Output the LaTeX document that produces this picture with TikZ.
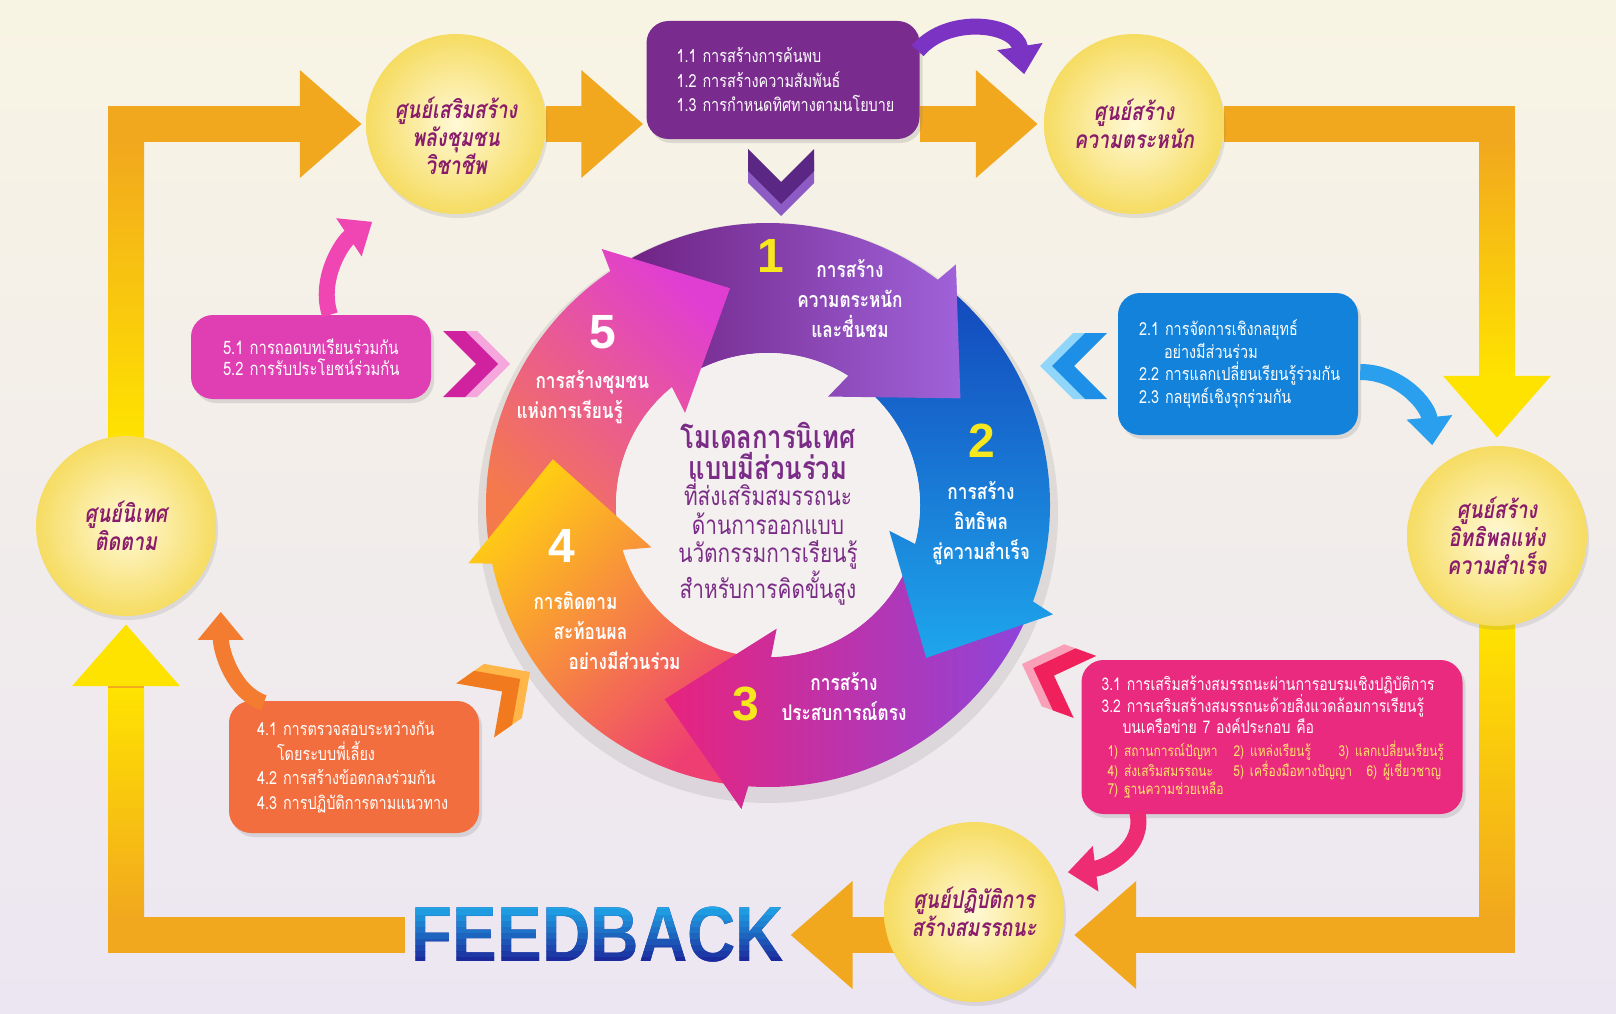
\documentclass[tikz,border=0pt]{standalone}
\usepackage{fontspec}
\newfontfamily\thai[Script=Thai,FakeStretch=0.8]{Loma}
\newfontfamily\numfont{Liberation Sans}
\usetikzlibrary{positioning,arrows.meta,calc,shadows,backgrounds}

\definecolor{bgtop}{HTML}{F8F4E4}
\definecolor{bgbot}{HTML}{ECE6F2}
\definecolor{bandO}{HTML}{F2A81E}
\definecolor{bandY}{HTML}{FFE300}
\definecolor{ballIn}{HTML}{FFF9D6}
\definecolor{ballOut}{HTML}{F6DC62}
\definecolor{ballTxt}{HTML}{8A1C6C}
\definecolor{boxP}{HTML}{7A2B8E}
\definecolor{boxB}{HTML}{1282DA}
\definecolor{boxR}{HTML}{EA2A7E}
\definecolor{boxO}{HTML}{F36E3E}
\definecolor{boxM}{HTML}{DF3FB2}
\definecolor{boxY}{HTML}{FFE36A}
\definecolor{midTxt}{HTML}{7A2C86}
\definecolor{numY}{HTML}{F7E81E}
\definecolor{innerC}{HTML}{F4F0EF}
\definecolor{fbTop}{HTML}{20AAEA}
\definecolor{fbBot}{HTML}{1B2A9C}
% ring parts: a = top, m = middle, b = bottom (before turning)
\definecolor{r1a}{HTML}{6E2282}\definecolor{r1m}{HTML}{8A3FB0}\definecolor{r1b}{HTML}{A062DA}
\definecolor{r2a}{HTML}{1348BC}\definecolor{r2m}{HTML}{1676D6}\definecolor{r2b}{HTML}{1EA6EC}
\definecolor{r3a}{HTML}{E8237E}\definecolor{r3m}{HTML}{BF30B0}\definecolor{r3b}{HTML}{8E44DA}
\definecolor{r4a}{HTML}{FFCC14}\definecolor{r4m}{HTML}{F7922E}\definecolor{r4b}{HTML}{EE3E72}
\definecolor{r5a}{HTML}{E03ED2}\definecolor{r5m}{HTML}{EE4C96}\definecolor{r5b}{HTML}{F47A4C}
% small arrows and chevrons
\definecolor{arP}{HTML}{7A33C2}\definecolor{arB}{HTML}{2A9FEE}
\definecolor{arR}{HTML}{EE2C74}\definecolor{arO}{HTML}{F47C30}
\definecolor{arM}{HTML}{F046B4}
\definecolor{chPa}{HTML}{5A2784}\definecolor{chPb}{HTML}{8D5BC4}
\definecolor{chBa}{HTML}{1E8FE6}\definecolor{chBb}{HTML}{8FD6FA}
\definecolor{chRa}{HTML}{F0205C}\definecolor{chRb}{HTML}{F9A0B8}
\definecolor{chOa}{HTML}{F27A1E}\definecolor{chOb}{HTML}{FFB648}
\definecolor{chMa}{HTML}{D0229E}\definecolor{chMb}{HTML}{F5A6DC}

\tikzset{pics/chev/.style 2 args={code={
  \fill[#2] (-33,-33) -- (0,0) -- (-33,33) -- (-55,33) -- (-22,0) -- (-55,-33) -- cycle;
  \fill[#1] (-45,-33) -- (-12,0) -- (-45,33) -- (-67,33) -- (-34,0) -- (-67,-33) -- cycle;
}}}

\begin{document}
\begin{tikzpicture}[x=1pt,y=-1pt,
  band/.style={line width=36pt, draw=bandO},
  balltxt/.style={align=center, text=ballTxt, font=\thai\bfseries\itshape\fontsize{24.5}{28}\selectfont},
  ball/.style={circle, minimum size=180pt, inner sep=0pt, shading=radial, inner color=ballIn, outer color=ballOut,
    drop shadow={opacity=.18, shadow xshift=2pt, shadow yshift=-4pt}, balltxt},
  infobox/.style={rounded corners=22pt, align=left, inner ysep=0pt, text=white,
    font=\thai\fontsize{18}{24.5}\selectfont, drop shadow={opacity=.22, shadow xshift=3pt, shadow yshift=-4pt}},
  ringtxt/.style={align=center, text=white, font=\thai\bfseries\fontsize{21.5}{30}\selectfont},
  ringnum/.style={font=\numfont\bfseries\fontsize{48}{48}\selectfont},
  fbtxt/.style={font=\numfont\bfseries\fontsize{78}{78}\selectfont, inner sep=6pt},
  curv/.style={line width=16pt, draw=#1, -{Triangle[length=28pt,width=44pt,color=#1]}}]
\useasboundingbox (0,0) rectangle (1616,1014);

% ring: five curved arrows, heads laid over the next one
\begin{scope}[shift={(768,505)}, y=1pt]
  \fill[black, opacity=.08] (0,-8) circle[radius=290];
  \foreach \s/\b/\i/\ang in {121/56/1/90, 50/-17/2/0, -23/-91/3/90, -97/-165/4/45, -171/-233/5/-45}
    \shade[top color=r\i a, middle color=r\i m, bottom color=r\i b, shading angle=\ang]
      (\s:282) arc[start angle=\s, end angle=\b-3, radius=282] -- ({\b-4}:305) -- ({\b-27}:220) -- ({\b+5}:124)
      -- ({\b+4}:152) arc[start angle=\b+4, end angle=\s, radius=152] -- cycle;
  \fill[innerC] (0,0) circle[radius=152];
  \foreach \s/\b/\i/\ang in {121/56/1/90, 50/-17/2/0, -23/-91/3/90, -97/-165/4/45, -171/-233/5/-45} {
    \begin{scope}
      \clip ({\b-4}:305) -- ({\b-27}:220) -- ({\b+5}:124) -- cycle;
      \shade[top color=r\i a, middle color=r\i m, bottom color=r\i b, shading angle=\ang]
        (\s:282) arc[start angle=\s, end angle=\b-3, radius=282] -- ({\b-4}:305) -- ({\b-27}:220) -- ({\b+5}:124)
        -- ({\b+4}:152) arc[start angle=\b+4, end angle=\s, radius=152] -- cycle;
    \end{scope}
  }
\end{scope}

% centres
\node[ball] (c1) at (456,124) {};
\node[balltxt] (c1t) at (456,136) {ศูนย์เสริมสร้าง\\พลังชุมชน\\วิชาชีพ};
\node[ball] (c2) at (1134,124) {ศูนย์สร้าง\\ความตระหนัก};
\node[ball] (c3) at (1497,536) {ศูนย์สร้าง\\อิทธิพลแห่ง\\ความสำเร็จ};
\node[ball] (c4) at (974,912) {ศูนย์ปฏิบัติการ\\สร้างสมรรถนะ};
\node[ball] (c5) at (126,526) {ศูนย์นิเทศ\\ติดตาม};

% feedback, shaded in strips
\node[fbtxt, text=fbBot] (fb) at (598,935) {\scalebox{0.86}[1]{FEEDBACK}};
\foreach \i in {0,...,9} {
  \pgfmathsetmacro\ytop{903+\i*6}
  \pgfmathsetmacro\pc{100-\i*11}
  \begin{scope}
    \clip (380,\ytop) rectangle (820,\ytop+6.3);
    \node[fbtxt, text=fbTop!\pc!fbBot] (fbs\i) at (fb) {\scalebox{0.86}[1]{FEEDBACK}};
  \end{scope}
}

% boxes
\node[infobox, fill=boxP, text width=213pt, inner xsep=30pt, minimum height=118pt] (box1) at (783,80)
  {1.1~การสร้างการค้นพบ\\1.2~การสร้างความสัมพันธ์\\1.3~การกำหนดทิศทางตามนโยบาย};
\node[infobox, fill=boxB, text width=198pt, inner xsep=21pt, minimum height=142pt, font=\thai\fontsize{18}{22.5}\selectfont] (box2) at (1238,364)
  {2.1~การจัดการเชิงกลยุทธ์\\\hspace*{25pt}อย่างมีส่วนร่วม\\2.2~การแลกเปลี่ยนเรียนรู้ร่วมกัน\\2.3~กลยุทธ์เชิงรุกร่วมกัน};
\node[infobox, fill=boxR, text width=341pt, inner xsep=20pt, minimum height=154pt, font=\thai\fontsize{17.5}{20.5}\selectfont] (box3) at (1272,737)
  {3.1~การเสริมสร้างสมรรถนะผ่านการอบรมเชิงปฏิบัติการ\\3.2~การเสริมสร้างสมรรถนะด้วยสิ่งแวดล้อมการเรียนรู้\\\hspace*{21pt}บนเครือข่าย~7~องค์ประกอบ~คือ\par\vspace{5pt}
  {\color{boxY}\fontsize{15}{18}\selectfont
  \hspace*{6pt}\makebox[126pt][l]{1)~สถานการณ์ปัญหา}\makebox[105pt][l]{2)~แหล่งเรียนรู้}3)~แลกเปลี่ยนเรียนรู้\\
  \hspace*{6pt}\makebox[126pt][l]{4)~ส่งเสริมสมรรถนะ}\makebox[133pt][l]{5)~เครื่องมือทางปัญญา}6)~ผู้เชี่ยวชาญ\\
  \hspace*{6pt}7)~ฐานความช่วยเหลือ\par}};
\node[infobox, fill=boxO, text width=194pt, inner xsep=28pt, minimum height=132pt] (box4) at (354,767)
  {4.1~การตรวจสอบระหว่างกัน\\\hspace*{20pt}โดยระบบพี่เลี้ยง\\4.2~การสร้างข้อตกลงร่วมกัน\\4.3~การปฏิบัติการตามแนวทาง};
\node[infobox, fill=boxM, text width=176pt, inner xsep=32pt, minimum height=84pt, font=\thai\fontsize{18.5}{21}\selectfont] (box5) at (311,357)
  {5.1~การถอดบทเรียนร่วมกัน\\5.2~การรับประโยชน์ร่วมกัน};

% frame
\begin{pgfonlayer}{background}
\shade[top color=bgtop, bottom color=bgbot] (0,0) rectangle (1616,1014);
\draw[band, -{Triangle[length=62pt,width=104pt,color=bandO]}] (c5) |- ($(c1.west)+(-4,0)$);
\draw[band, -{Triangle[length=62pt,width=104pt,color=bandO]}] (c1) -- ($(c1 -| box1.west)+(-3,0)$);
\draw[band, -{Triangle[length=62pt,width=104pt,color=bandO]}] (c1 -| box1.east) -- ($(c2.west)+(-6,0)$);
\draw[band, -{Triangle[length=62pt,width=104pt,color=bandY]}] (c2) -| ($(c3.north)+(0,-8)$);
\draw[band, -{Triangle[length=62pt,width=104pt,color=bandO]}] (c3) |- ($(c4.east |- fb)+(10,0)$);
\draw[band, -{Triangle[length=62pt,width=104pt,color=bandO]}] (c4 |- fb) -- (fb.east);
\draw[band, -{Triangle[length=62pt,width=104pt,color=bandY]}] (fb.west) -| ($(c5.south)+(0,8)$);
\shade[top color=bandO, bottom color=bandY] (108,142) rectangle (144,440);
\shade[top color=bandY, bottom color=bandO] (108,688) rectangle (144,917);
\shade[top color=bandO, bottom color=bandY] (1479,142) rectangle (1515,378);
\shade[top color=bandY, bottom color=bandO] (1479,620) rectangle (1515,917);
\end{pgfonlayer}

\node[ringnum, text=numY] (n1) at (771,256) {1};
\node[ringtxt] (t1) at (850,299) {การสร้าง\\ความตระหนัก\\และชื่นชม};
\node[ringnum, text=numY] (n2) at (982,441) {2};
\node[ringtxt] (t2) at (981,523) {การสร้าง\\อิทธิพล\\สู่ความสำเร็จ};
\node[ringnum, text=numY] (n3) at (746,704) {3};
\node[ringtxt] (t3) at (844,697) {การสร้าง\\ประสบการณ์ตรง};
\node[ringnum, text=white] (n4) at (562,546) {4};
\node[ringtxt, align=left, anchor=west] (t4) at (530,631) {การติดตาม\\\hspace*{20pt}สะท้อนผล\\\hspace*{35pt}อย่างมีส่วนร่วม};
\node[ringnum, text=white] (n5) at (603,332) {5};
\node[ringtxt, align=left, anchor=west] (t5) at (513,397) {\hspace*{19pt}การสร้างชุมชน\\แห่งการเรียนรู้};

\node[font=\thai\bfseries\fontsize{32}{31}\selectfont, text=midTxt, align=center] (mtitle) at (768,451) {โมเดลการนิเทศ\\แบบมีส่วนร่วม};
\node[font=\thai\fontsize{26}{28.5}\selectfont, text=midTxt, align=center] (msub) at (768,542) {ที่ส่งเสริมสมรรถนะ\\ด้านการออกแบบ\\นวัตกรรมการเรียนรู้\\สำหรับการคิดขั้นสูง};

% small curved arrows
\draw[curv=arP] ($(box1.north east)+(-2,30)$) .. controls +(30,-36) and +(-8,-51) .. ($(c2.north west)+(-46,14)$);
\draw[curv=arB] ($(box2.east)+(2,8)$) .. controls +(40,0) and +(-4,-40) .. ($(c3.north west)+(-1,-27)$);
\draw[curv=arR] ($(box3.south west)+(56,-2)$) .. controls +(8,35) and +(40,-5) .. ($(c4.north east)+(30,24)$);
\draw[curv=arO] ($(box4.north west)+(35,2)$) .. controls +(-30,-10) and +(0,40) .. ($(c5.south east)+(31,22)$);
\draw[curv=arM] ($(box5.north)+(19,0)$) .. controls +(-12,-35) and +(-30,20) .. ($(c1.south west)+(-20,34)$);

% chevrons
\path (781,216) pic[rotate=-90] {chev={chPa}{chPb}};
\path (1040,366) pic[rotate=180] {chev={chBa}{chBb}};
\path (1022,664) pic[rotate=160] {chev={chRa}{chRb}};
\path (530,672) pic[rotate=35] {chev={chOa}{chOb}};
\path (510,364) pic {chev={chMa}{chMb}};
\end{tikzpicture}
\end{document}
